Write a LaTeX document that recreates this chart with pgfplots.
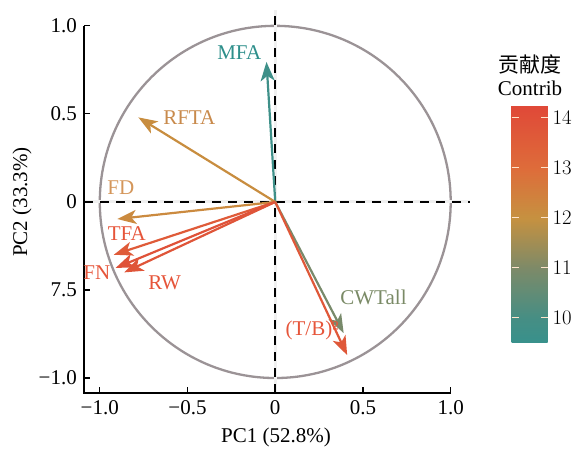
\documentclass[border=0pt]{standalone}
\usepackage{fontspec}
\setmainfont{Liberation Serif}
\newfontfamily\cjk{Noto Sans CJK SC}
\usepackage{pgfplots}
\usepackage{pgfplotstable}
\pgfplotsset{compat=1.18}
\usetikzlibrary{arrows.meta}

\definecolor{cMFA}{RGB}{46,143,139}
\definecolor{cRFTA}{RGB}{200,138,76}
\definecolor{cFD}{RGB}{212,150,90}
\definecolor{cRed}{RGB}{230,85,58}
\definecolor{cCW}{RGB}{122,138,102}
\definecolor{cCircle}{RGB}{155,147,150}

% loadings: arrow from (x,y) by (u,v), c = contribution
\pgfplotstableread{
x y u v c
0 0 -0.05 0.795 9.7
0 0 -0.78 0.48 12.1
0 0 -0.90 -0.097 12.2
0 0 -0.92 -0.30 13.6
0 0 -0.91 -0.375 13.9
0 0 -0.86 -0.40 13.8
0 0 0.39 -0.745 10.9
0 0 0.41 -0.87 13.7
}\loadings

\begin{document}
\fontsize{21}{25}\selectfont
\begin{tikzpicture}
\useasboundingbox (0pt,0pt) rectangle (583pt,460pt);
\begin{axis}[
  at={(84pt,67pt)}, anchor=south west,
  width=386pt, height=383pt, scale only axis,
  xmin=-1.09, xmax=1.11, ymin=-1.085, ymax=1.09,
  axis lines*=left,
  axis line style={draw=none},
  tick align=inside,
  major tick length=6pt,
  tick style={black, line width=1.2pt},
  xtick={-1,-0.5,0,0.5,1},
  xticklabels={−1.0,−0.5,0,0.5,1.0},
  ytick={-1,-0.5,0,0.5,1},
  yticklabels={−1.0,7.5,0,0.5,1.0},
  font=\fontsize{21}{25}\selectfont,
  clip=false,
  colormap={contrib}{rgb255(950)=(56,145,140); rgb255(1000)=(70,142,132);
    rgb255(1100)=(125,138,104); rgb255(1200)=(198,145,64);
    rgb255(1300)=(222,108,58); rgb255(1426)=(224,72,56)},
  point meta min=9.5, point meta max=14.26,
  colorbar,
  colorbar/width=36pt,
  colorbar style={
    at={(parent axis.north east)}, anchor=north west,
    xshift=33pt, yshift=-95pt,
    height=238pt, scale only axis,
    ytick={10,11,12,13,14},
    ytick pos=both, yticklabel pos=right,
    tick align=inside, major tick length=7pt,
    tick style={white!80!orange, line width=1pt},
    axis line style={draw=none},
    yticklabel style={font=\fontsize{21}{25}\selectfont, xshift=-2pt},
  },
]
% reference circle and zero lines
\draw[cCircle, line width=2.3pt] (axis cs:0,0) ellipse [x radius=1, y radius=1];
\addplot[white!88!gray, line width=3pt] coordinates {(0,-1.085) (0,1.09)};
\addplot[white!88!gray, line width=3pt] coordinates {(-1.09,0) (1.11,0)};
\addplot[black, line width=2pt, dash pattern=on 9pt off 7pt] coordinates {(0,-1.085) (0,1.09)};
\addplot[black, line width=2pt, dash pattern=on 9pt off 7pt] coordinates {(-1.09,0) (1.11,0)};
% spines
\draw[black, line width=1.5pt] (axis cs:-1.09,1.0) -- (axis cs:-1.09,-1.085) -- (axis cs:1.0,-1.085);
% loading arrows
\addplot[
  quiver={u=\thisrow{u}, v=\thisrow{v}, colored=mapped color,
    every arrow/.append style={-{Stealth[length=19pt,width=14pt,inset=5pt]}, line width=2.2pt}},
  point meta=\thisrow{c},
] table {\loadings};
% labels
\node[text=cMFA] at (axis cs:-0.205,0.85) {MFA};
\node[text=cRFTA] at (axis cs:-0.49,0.48) {RFTA};
\node[text=cFD] at (axis cs:-0.88,0.08) {FD};
\node[text=cRed] at (axis cs:-0.846,-0.18) {TFA};
\node[text=cRed] at (axis cs:-1.017,-0.40) {FN};
\node[text=cRed] at (axis cs:-0.63,-0.46) {RW};
\node[text=cCW] at (axis cs:0.56,-0.54) {CWTall};
\node[text=cRed] at (axis cs:0.21,-0.73) {(T/B)²};
\end{axis}
\node at (276pt,23pt) {PC1 (52.8\%)};
\node[rotate=90] at (22pt,258pt) {PC2 (33.3\%)};
\node at (530pt,395pt) {\cjk 贡献度};
\node at (530pt,372pt) {Contrib};
\end{tikzpicture}
\end{document}
